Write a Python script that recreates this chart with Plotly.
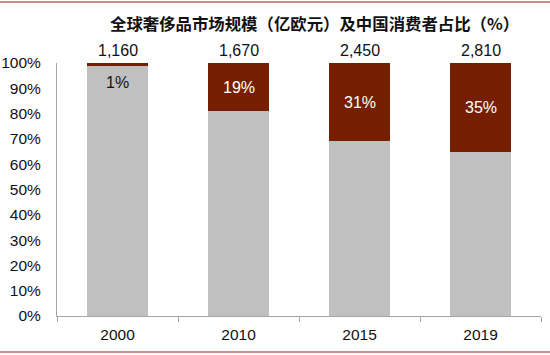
import plotly.graph_objects as go

years = ["2000", "2010", "2015", "2019"]
market_size = ["1,160", "1,670", "2,450", "2,810"]
china_share = [1, 19, 31, 35]          # % Chinese consumers
other_share = [99, 81, 69, 65]         # % remaining
y_ticks = [0, 10, 20, 30, 40, 50, 60, 70, 80, 90, 100]

title_text = "全球奢侈品市场规模（亿欧元）及中国消费者占比（%）"

RED = "#761F00"
GREY = "#C0C0C0"
FONT = "Liberation Sans, Arial, sans-serif"

W, H = 550, 355
L, R, T, B = 57, 9, 63, 39

fig = go.Figure()
fig.add_trace(go.Bar(x=years, y=[v / 100 for v in other_share], marker_color=GREY,
                     marker_line_width=0, width=0.5, hoverinfo="skip"))
fig.add_trace(go.Bar(x=years, y=[v / 100 for v in china_share], marker_color=RED,
                     marker_line_width=0, width=0.5, hoverinfo="skip"))

annotations = []
for i, (size, share) in enumerate(zip(market_size, china_share)):
    annotations.append(dict(x=i, y=1, xref="x", yref="y", text=size, showarrow=False,
                            yanchor="middle", yshift=13,
                            font=dict(family=FONT, size=16, color="#111111")))
    if share >= 5:
        annotations.append(dict(x=i, y=1 - share / 200, xref="x", yref="y",
                                text=f"{share}%", showarrow=False, yanchor="middle",
                                font=dict(family=FONT, size=16, color="white")))
    else:
        annotations.append(dict(x=i, y=1, xref="x", yref="y",
                                text=f"{share}%", showarrow=False, yanchor="middle",
                                yshift=-19,
                                font=dict(family=FONT, size=16, color="#111111")))

pw = W - L - R
ph = H - T - B

annotations.append(dict(x=(314.5 - L) / pw, y=(H - B - 23) / ph,
                        xref="paper", yref="paper", text=title_text, showarrow=False,
                        xanchor="center", yanchor="middle",
                        font=dict(family="Noto Sans CJK SC", size=16.4, color="#111111",
                                  weight="bold")))

shapes = []
for ypx in (2, 352):
    yp = (H - B - ypx) / ph
    shapes.append(dict(type="line", xref="paper", yref="paper",
                       x0=-L / pw, x1=(W - L) / pw, y0=yp, y1=yp,
                       line=dict(color="#B86868", width=1.5)))

fig.update_layout(
    barmode="stack",
    width=W, height=H,
    margin=dict(l=L, r=R, t=T, b=B, pad=0, autoexpand=False),
    paper_bgcolor="white", plot_bgcolor="white",
    showlegend=False,
    annotations=annotations,
    shapes=shapes,
    font=dict(family=FONT, size=15, color="#111111"),
)
fig.update_xaxes(type="category", showline=True, linecolor="#A6A6A6", linewidth=1,
                 ticks="outside", ticklen=5, tickcolor="#A6A6A6", tickson="boundaries",
                 showgrid=False, tickfont=dict(family=FONT, size=15.5, color="#111111"),
                 ticklabelstandoff=4,
                 range=[-0.5, 3.5], automargin=False)
fig.update_yaxes(range=[0, 1], tickvals=[v / 100 for v in y_ticks],
                 ticktext=[f"{v}%" for v in y_ticks], showgrid=False, zeroline=False,
                 showline=True, linecolor="#A6A6A6", linewidth=1, ticks="",
                 ticklabelstandoff=12, automargin=False,
                 tickfont=dict(family=FONT, size=15.5, color="#111111"))

fig.write_html("out.html", config={"displayModeBar": False},
               post_script="document.body.style.margin='0';")
